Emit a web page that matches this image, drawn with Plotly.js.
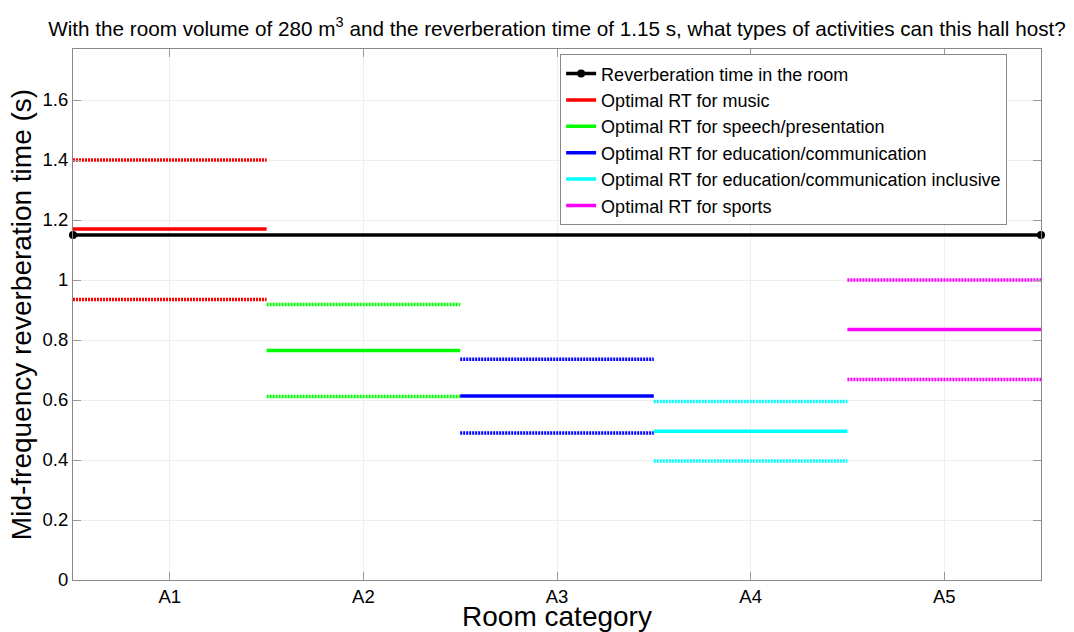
<!DOCTYPE html>
<html>
<head>
<meta charset="utf-8">
<script src="https://cdn.plot.ly/plotly-3.0.1.min.js"></script>
<style>html,body{margin:0;padding:0;background:#fff;}#chart{width:1074px;height:632px;}</style>
</head>
<body>
<div id="chart"></div>
<script>
const categories = ['A1', 'A2', 'A3', 'A4', 'A5'];
const seriesNames = [
  'Optimal RT for music',
  'Optimal RT for speech/presentation',
  'Optimal RT for education/communication',
  'Optimal RT for education/communication inclusive',
  'Optimal RT for sports'
];
const seriesColors = ['#ff0000', '#00ff00', '#0000ff', '#00ffff', '#ff00ff'];
const optimalRT = [1.17, 0.765, 0.613, 0.496, 0.835];
const upperRT = [1.40, 0.918, 0.736, 0.595, 1.00];
const lowerRT = [0.935, 0.612, 0.49, 0.397, 0.668];
const roomRT = 1.15;
const roomName = 'Reverberation time in the room';

const traces = [];
traces.push({
  x: [0.5, categories.length + 0.5], y: [roomRT, roomRT],
  mode: 'lines+markers', name: roomName,
  line: {color: '#000000', width: 3.5},
  marker: {color: '#000000', size: 8},
  cliponaxis: false
});
categories.forEach((c, i) => {
  const xs = [i + 0.5, i + 1.5];
  traces.push({
    x: xs, y: [optimalRT[i], optimalRT[i]], mode: 'lines', name: seriesNames[i],
    legendgroup: 'g' + i, line: {color: seriesColors[i], width: 3.5}
  });
  traces.push({
    x: xs, y: [upperRT[i], upperRT[i]], mode: 'lines', showlegend: false,
    legendgroup: 'g' + i, line: {color: seriesColors[i], width: 3.5, dash: '2px,1px'}
  });
  traces.push({
    x: xs, y: [lowerRT[i], lowerRT[i]], mode: 'lines', showlegend: false,
    legendgroup: 'g' + i, line: {color: seriesColors[i], width: 3.5, dash: '2px,1px'}
  });
});

const font = {family: 'Arial, "Liberation Sans", sans-serif', color: '#000'};
const layout = {
  width: 1074, height: 632,
  margin: {l: 73, r: 33, t: 49, b: 52},
  paper_bgcolor: '#fff', plot_bgcolor: '#fff',
  font: font,
  showlegend: true,
  title: {
    text: 'With the room volume of 280 m<sup>3</sup> and the reverberation time of 1.15 s, what types of activities can this hall host?',
    font: {family: font.family, size: 20.7, color: '#000'},
    x: 0.5, xref: 'paper', xanchor: 'center',
    y: 0.955, yref: 'container', yanchor: 'middle'
  },
  xaxis: {
    range: [0.5, 5.5], tickvals: [1, 2, 3, 4, 5], ticktext: categories,
    title: {text: 'Room category', font: {family: font.family, size: 28, color: '#000'}, standoff: 3},
    tickfont: {family: font.family, size: 18.5, color: '#000'},
    showgrid: true, gridcolor: '#eeeeee', gridwidth: 1,
    showline: true, linecolor: '#888', linewidth: 1, mirror: 'ticks',
    ticks: 'inside', ticklen: 8, tickcolor: '#999', zeroline: false
  },
  yaxis: {
    range: [0, 1.77], tickvals: [0, 0.2, 0.4, 0.6, 0.8, 1, 1.2, 1.4, 1.6],
    ticktext: ['0', '0.2', '0.4', '0.6', '0.8', '1', '1.2', '1.4', '1.6'],
    title: {text: 'Mid-frequency reverberation time (s)', font: {family: font.family, size: 28, color: '#000'}, standoff: 2},
    tickfont: {family: font.family, size: 18.5, color: '#000'},
    showgrid: true, gridcolor: '#eeeeee', gridwidth: 1,
    showline: true, linecolor: '#888', linewidth: 1, mirror: 'ticks',
    ticks: 'inside', ticklen: 8, tickcolor: '#999', zeroline: false
  },
  legend: {
    x: 0.965, y: 0.99, xanchor: 'right', yanchor: 'top',
    bgcolor: '#fff', bordercolor: '#888', borderwidth: 1,
    font: {family: font.family, size: 18, color: '#000'},
    itemwidth: 30, tracegroupgap: 0
  }
};
Plotly.newPlot('chart', traces, layout, {displayModeBar: false, staticPlot: true});
</script>
</body>
</html>
